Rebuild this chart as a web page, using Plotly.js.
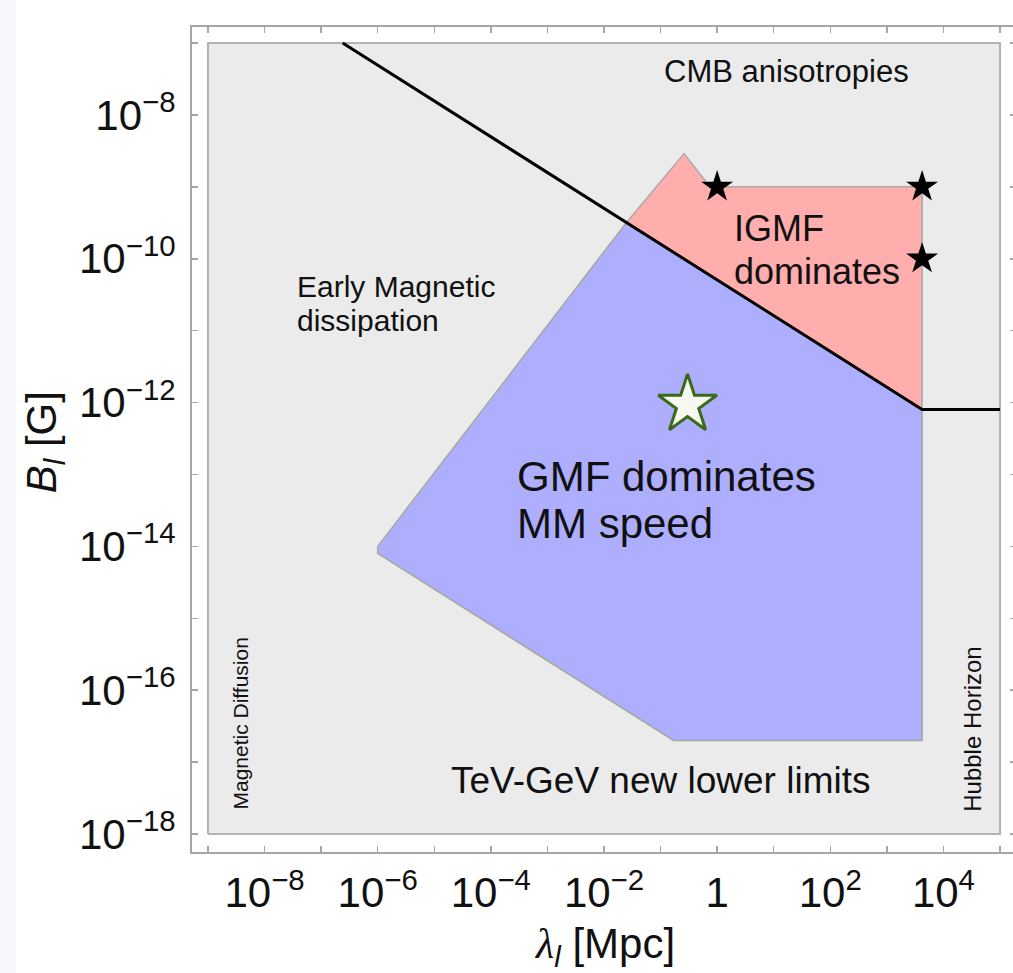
<!DOCTYPE html>
<html>
<head>
<meta charset="utf-8">
<script src="https://cdn.plot.ly/plotly-3.0.1.min.js"></script>
<style>
html,body{margin:0;padding:0;overflow:hidden;background:#fff;}
#chart{width:1030px;height:973px;}
</style>
</head>
<body>
<div id="chart"></div>
<script>
// ---- data (lambda in Mpc, B in Gauss) ----
const boxLambda = [1e-9, 1e5, 1e5, 1e-9, 1e-9];
const boxB      = [1e-18, 1e-18, 1e-7, 1e-7, 1e-18];

const limitLambda = [2.4e-7, 4200, 1e5];
const limitB      = [1e-7, 8e-13, 8e-13];

const igmfLambda = [0.025, 0.26, 0.75, 4200, 4200, 0.025];
const igmfB      = [3.2e-10, 2.9e-9, 1e-9, 1e-9, 8e-13, 3.2e-10];

const gmfLambda = [0.025, 1e-6, 1e-6, 0.17, 4200, 4200, 0.025];
const gmfB      = [3.2e-10, 1e-14, 8e-15, 2e-17, 2e-17, 8e-13, 3.2e-10];

const starLambda = [1, 4200, 4200];
const starB      = [1e-9, 1e-9, 1e-10];

const refLambda = [0.3];
const refB      = [9.3e-13];

const xTickVals  = [1e-8,1e-6,1e-4,1e-2,1,1e2,1e4];
const xTickText  = ['10<sup>−8</sup>','10<sup>−6</sup>','10<sup>−4</sup>','10<sup>−2</sup>','1','10<sup>2</sup>','10<sup>4</sup>'];
const xMinorVals = [1e-9,1e-7,1e-5,1e-3,1e-1,1e1,1e3,1e5];
const yTickVals  = [1e-18,1e-16,1e-14,1e-12,1e-10,1e-8];
const yTickText  = ['10<sup>−18</sup>','10<sup>−16</sup>','10<sup>−14</sup>','10<sup>−12</sup>','10<sup>−10</sup>','10<sup>−8</sup>'];
const yMinorVals = [1e-17,1e-15,1e-13,1e-11,1e-9,1e-7];

const FONT = 'Liberation Sans, Arial, sans-serif';

const traces = [
  {x: boxLambda, y: boxB, mode:'lines', fill:'toself', fillcolor:'#ebebeb',
   line:{color:'#b3b3b3', width:2}, hoverinfo:'skip', showlegend:false},
  {x: gmfLambda, y: gmfB, mode:'lines', fill:'toself', fillcolor:'#aeaeff',
   line:{color:'#a3a99c', width:1.5}, hoverinfo:'skip', showlegend:false},
  {x: igmfLambda, y: igmfB, mode:'lines', fill:'toself', fillcolor:'#ffadad',
   line:{color:'#a9a9a9', width:1.5}, hoverinfo:'skip', showlegend:false},
  {x: limitLambda, y: limitB, mode:'lines', line:{color:'#000', width:3},
   hoverinfo:'skip', showlegend:false},
  {x: starLambda, y: starB, mode:'markers',
   marker:{symbol:'star', size:24, color:'#000'}, hoverinfo:'skip', showlegend:false},
  {x: refLambda, y: refB, mode:'markers',
   marker:{symbol:'star', size:44, color:'#f6f9f2', line:{color:'#3d6a18', width:3}},
   hoverinfo:'skip', showlegend:false}
];

function ann(text, x, y, size, opts){
  return Object.assign({text:text, x:x, y:y, xref:'x', yref:'y', showarrow:false,
    font:{family:FONT, size:size, color:'#111'}, xanchor:'center', yanchor:'middle'}, opts||{});
}

const annotations = [
  ann('CMB anisotropies', 1.23, -7.40, 31),
  ann('Early Magnetic', -7.47, -10.39, 30, {xanchor:'left'}),
  ann('dissipation', -7.47, -10.86, 30, {xanchor:'left'}),
  ann('IGMF', 0.27, -9.58, 36, {xanchor:'left'}),
  ann('dominates', 0.27, -10.18, 36, {xanchor:'left'}),
  ann('GMF dominates', -3.58, -13.03, 42, {xanchor:'left'}),
  ann('MM speed', -3.58, -13.68, 42, {xanchor:'left'}),
  ann('TeV-GeV new lower limits', -1.01, -17.26, 37),
  ann('Magnetic Diffusion', -8.43, -16.46, 21, {textangle:-90}),
  ann('Hubble Horizon', 4.50, -16.54, 24, {textangle:-90}),
  {text:'<span style="font-family:\'Liberation Serif\'"><i>λ</i></span><sub><i>l</i></sub> [Mpc]',
   xref:'paper', yref:'paper', x:0.501, y:-0.114, showarrow:false,
   xanchor:'center', yanchor:'middle', font:{family:FONT, size:42, color:'#111'}},
  {text:'<i>B</i><sub><i>l</i></sub> [G]', textangle:-90,
   xref:'paper', yref:'paper', x:-0.178, y:0.497, showarrow:false,
   xanchor:'center', yanchor:'middle', font:{family:FONT, size:42, color:'#111'}}
];

const axisCommon = {
  type:'log', showgrid:false, zeroline:false, showline:true, linecolor:'#a6a6a6', linewidth:2,
  mirror:'ticks', ticks:'inside', ticklen:6, tickwidth:1.5, tickcolor:'#a6a6a6',
  tickmode:'array', tickfont:{family:FONT, size:42, color:'#111'}
};

const layout = {
  width:1030, height:973,
  margin:{l:192, r:14, t:27, b:121},
  paper_bgcolor:'#ffffff', plot_bgcolor:'#ffffff',
  xaxis: Object.assign({}, axisCommon, {range:[-9.283, 5.283], tickvals:xTickVals, ticktext:xTickText, ticklabelstandoff:3,
    minor:{tickmode:'array', tickvals:xMinorVals, ticks:'inside', ticklen:6, tickwidth:1.5, tickcolor:'#a6a6a6', showgrid:false}}),
  yaxis: Object.assign({}, axisCommon, {range:[-18.25, -6.777], tickvals:yTickVals, ticktext:yTickText, ticklabelstandoff:6,
    minor:{tickmode:'array', tickvals:yMinorVals, ticks:'inside', ticklen:6, tickwidth:1.5, tickcolor:'#a6a6a6', showgrid:false}}),
  annotations: annotations,
  shapes:[{type:'rect', xref:'paper', yref:'paper', x0:-0.233, x1:-0.2136, y0:-0.147, y1:1.033,
           fillcolor:'#f6f8fc', line:{width:0}, layer:'below'}],
  showlegend:false
};

Plotly.newPlot('chart', traces, layout, {displayModeBar:false, staticPlot:true});
</script>
</body>
</html>
